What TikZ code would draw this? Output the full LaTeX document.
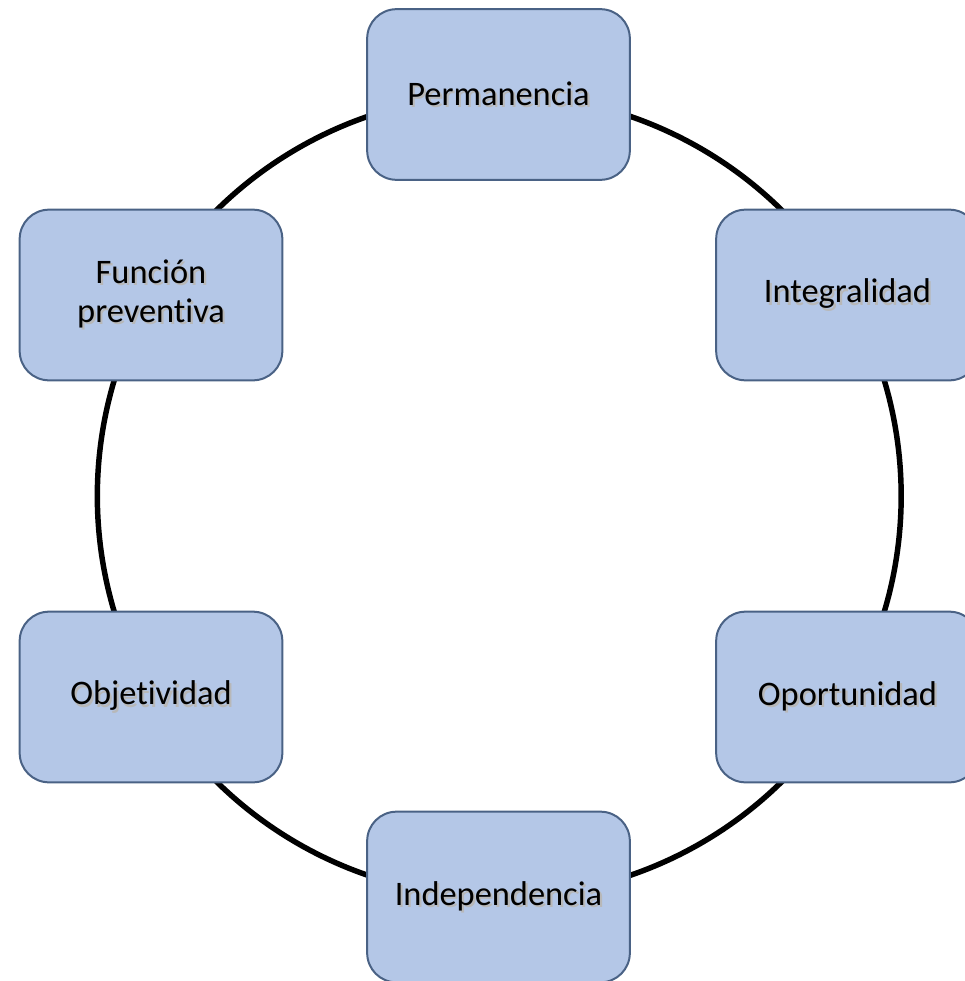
\documentclass[tikz,border=0pt]{standalone}
\usepackage{fontspec}
\setmainfont{Carlito}[Ligatures=NoCommon]
\usetikzlibrary{backgrounds}
\definecolor{boxfill}{HTML}{B4C7E7}
\definecolor{boxdraw}{HTML}{4A6285}
\newcommand\shtext[1]{\leavevmode\rlap{\hspace{1.6pt}\raisebox{-1.6pt}{\textcolor{black!28}{#1}}}#1}
\tikzset{
  stagebox/.style={draw=boxdraw, line width=1.5pt, fill=boxfill, rounded corners=22pt,
    minimum width=197pt, minimum height=128pt, inner sep=0pt, align=center,
    font=\fontsize{25.8}{29.5}\selectfont, text=black},
  ring/.style={line width=4.1pt, black, looseness=0.913}
}
\begin{document}
\begin{tikzpicture}[x=0.75pt, y=-0.75pt]
\useasboundingbox (0,0) rectangle (964,981);
\node[stagebox] (perm) at (498.5,94.5) {\shtext{Permanencia}};
\node[stagebox] (integ) at (847.5,295) {\shtext{Integralidad}};
\node[stagebox] (oport) at (847.5,697) {\shtext{Oportunidad}};
\node[stagebox] (indep) at (498.5,897) {\shtext{Independencia}};
\node[stagebox] (objet) at (151,697) {\shtext{Objetividad}};
\node[stagebox] (func) at (151,295) {\shtext{Función}\\\shtext{preventiva}};
\begin{scope}[on background layer]
\draw[ring] (perm.center) to[bend left=30] (integ.center);
\draw[ring] (integ.center) to[bend left=30] (oport.center);
\draw[ring] (oport.center) to[bend left=30] (indep.center);
\draw[ring] (indep.center) to[bend left=30] (objet.center);
\draw[ring] (objet.center) to[bend left=30] (func.center);
\draw[ring] (func.center) to[bend left=30] (perm.center);
\end{scope}
\end{tikzpicture}
\end{document}
